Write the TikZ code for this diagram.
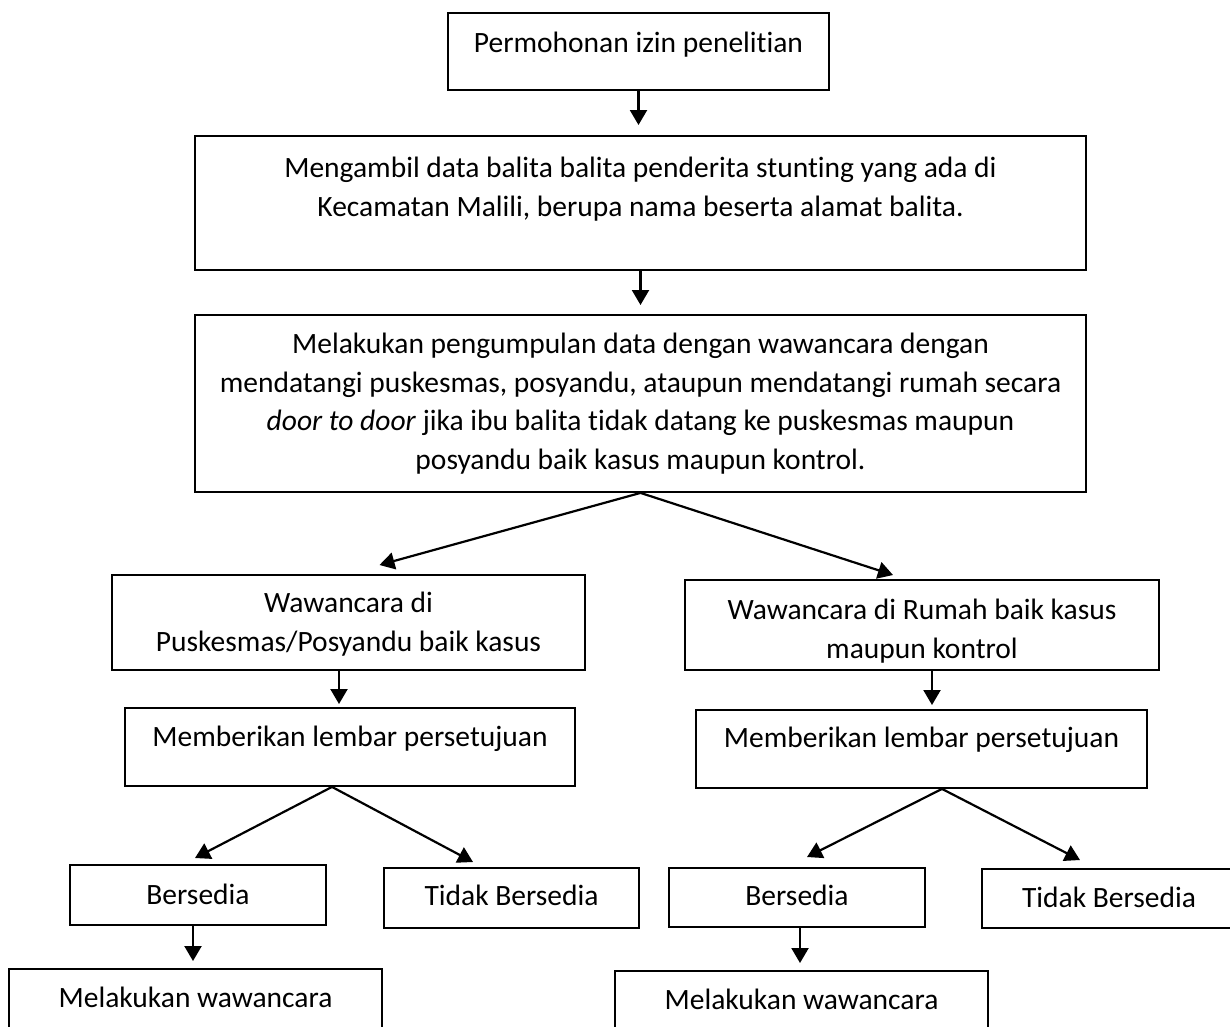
\documentclass[tikz,border=0pt]{standalone}
\usepackage{fontspec}
\setmainfont{Carlito}[Ligatures=NoCommon]
\usetikzlibrary{arrows.meta}

\begin{document}
\begin{tikzpicture}[x=1pt,y=-1pt,
  box/.style={draw,line width=1.9pt,anchor=north,inner xsep=0pt,inner ysep=0pt,align=flush center,font=\fontsize{29.5}{38.5}\selectfont},
  arr/.style={line width=2.2pt,-{Triangle[width=17pt,length=15pt]}}]
  \useasboundingbox (0,0) rectangle (1230,1026);
  \clip (0,0) rectangle (1230,1026);
  \node [box,minimum width=381pt,text height=40pt,text depth=37pt] (izin) at (638.5,12) {Permohonan izin penelitian};
  \node [box,text width=891pt,text height=42pt,text depth=92pt] (ambil) at (640.5,135) {Mengambil data balita balita penderita stunting yang ada di\\ Kecamatan Malili, berupa nama beserta alamat balita.};
  \node [box,minimum width=891pt,minimum height=177pt] (kumpul) at (640.5,314) {Melakukan pengumpulan data dengan wawancara dengan\\ mendatangi puskesmas, posyandu, ataupun mendatangi rumah secara\\ \textit{door to door} jika ibu balita tidak datang ke puskesmas maupun\\ posyandu baik kasus maupun kontrol.};
  \node [box,text width=473pt,text height=38pt,text depth=57pt] (wpus) at (348.5,574) {Wawancara di\\ Puskesmas/Posyandu baik kasus};
  \node [box,text width=474pt,text height=40pt,text depth=50pt] (wrum) at (922,579) {Wawancara di Rumah baik kasus\\ maupun kontrol};
  \node [box,minimum width=450pt,text height=39pt,text depth=39pt] (setL) at (350,707) {Memberikan lembar persetujuan};
  \node [box,minimum width=451pt,text height=38pt,text depth=40pt] (setR) at (921.5,709) {Memberikan lembar persetujuan};
  \node [box,minimum width=256pt,text height=40pt,text depth=20pt] (yaL) at (198,864) {Bersedia};
  \node [box,minimum width=255pt,text height=38pt,text depth=22pt] (tdkL) at (511.5,867) {Tidak Bersedia};
  \node [box,minimum width=256pt,text height=38pt,text depth=21pt] (yaR) at (797,867) {Bersedia};
  \node [box,minimum width=254pt,text height=39pt,text depth=20pt] (tdkR) at (1109,868) {Tidak Bersedia};
  \node [box,minimum width=373pt,text height=39pt,text depth=80pt] (wwL) at (195.5,968) {Melakukan wawancara};
  \node [box,minimum width=373pt,text height=39pt,text depth=80pt] (wwR) at (801.5,970) {Melakukan wawancara};
  \draw [arr] (izin.south) -- ([yshift=10pt]izin.south |- ambil.north);
  \draw [arr] (ambil.south) -- ([yshift=9pt]ambil.south |- kumpul.north);
  \draw [arr] (kumpul.south) -- ([xshift=31pt,yshift=9pt]wpus.north);
  \draw [arr] (kumpul.south) -- ([xshift=-29pt,yshift=4pt]wrum.north);
  \draw [arr] ([xshift=-9.5pt]wpus.south) -- ([xshift=-9.5pt,yshift=3pt]wpus.south |- setL.north);
  \draw [arr] ([xshift=10pt]wrum.south) -- ([xshift=10pt,yshift=4pt]wrum.south |- setR.north);
  \draw [arr] ([xshift=-18pt]setL.south) -- ([xshift=-3pt,yshift=6pt]yaL.north);
  \draw [arr] ([xshift=-18pt]setL.south) -- ([xshift=-38.5pt,yshift=5pt]tdkL.north);
  \draw [arr] ([xshift=20.5pt]setR.south) -- ([xshift=10pt,yshift=10pt]yaR.north);
  \draw [arr] ([xshift=20.5pt]setR.south) -- ([xshift=-29pt,yshift=8pt]tdkR.north);
  \draw [arr] ([xshift=-5pt]yaL.south) -- ([xshift=-5pt,yshift=7pt]yaL.south |- wwL.north);
  \draw [arr] ([xshift=3pt]yaR.south) -- ([xshift=3pt,yshift=7pt]yaR.south |- wwR.north);
\end{tikzpicture}
\end{document}
